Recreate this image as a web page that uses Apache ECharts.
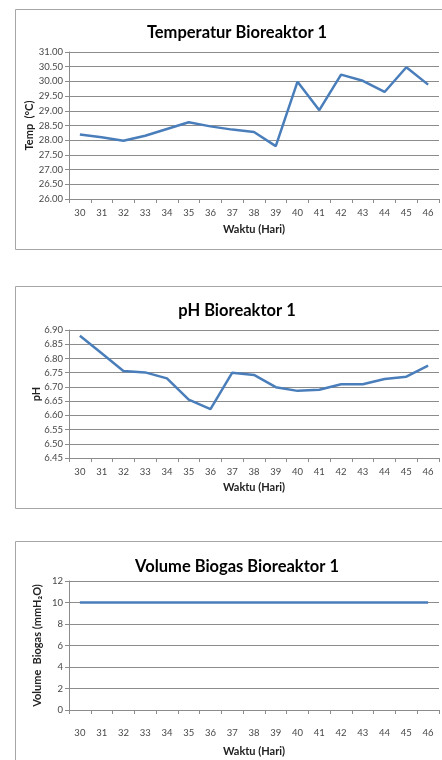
<!DOCTYPE html>
<html>
<head>
<meta charset="utf-8">
<title>Bioreaktor 1</title>
<script src="https://cdn.jsdelivr.net/npm/echarts@6/dist/echarts.min.js"></script>
<style>
  html, body { margin: 0; padding: 0; background: #fff; }
  #chart { width: 442px; height: 760px; }
</style>
</head>
<body>
<div id="chart"></div>
<script>
// hari ke-
const days = ["30", "31", "32", "33", "34", "35", "36", "37", "38", "39", "40", "41", "42", "43", "44", "45", "46"];
// temperatur (°C)
const tempValues = [28.19, 28.10, 27.98, 28.15, 28.38, 28.61, 28.47, 28.36, 28.28, 27.80, 29.99, 29.02, 30.23, 30.02, 29.64, 30.48, 29.89];
// pH
const phValues = [6.880, 6.818, 6.756, 6.751, 6.730, 6.655, 6.622, 6.750, 6.742, 6.699, 6.686, 6.690, 6.709, 6.709, 6.728, 6.736, 6.775];
// volume biogas (mmH2O)
const biogasValues = [10, 10, 10, 10, 10, 10, 10, 10, 10, 10, 10, 10, 10, 10, 10, 10, 10];

const FONT = "Lato, 'Liberation Sans', sans-serif";
const LINE_BLUE = "#4a7ebb";
const GRID_GREY = "#8c8c8c";

const chart = echarts.init(document.getElementById("chart"));

function xAxisFor(idx, labelMargin, nameGap) {
  return {
    type: "category",
    gridIndex: idx,
    data: days,
    boundaryGap: true,
    name: "Waktu (Hari)",
    nameLocation: "middle",
    nameGap: nameGap,
    nameMoveOverlap: false,
    nameTextStyle: { fontFamily: FONT, fontWeight: "bold", fontSize: 11, color: "#222" },
    axisLine: { lineStyle: { color: GRID_GREY, width: 1 } },
    axisTick: { show: true, alignWithLabel: false, length: 4, inside: false, lineStyle: { color: GRID_GREY } },
    axisLabel: { fontFamily: FONT, fontSize: 9.5, color: "#484848", margin: labelMargin, interval: 0 },
    splitLine: { show: false }
  };
}

function yAxisFor(idx, min, max, interval, name, nameGap, decimals) {
  return {
    type: "value",
    gridIndex: idx,
    min: min,
    max: max,
    interval: interval,
    name: name,
    nameLocation: "middle",
    nameGap: nameGap,
    nameMoveOverlap: false,
    nameRotate: 90,
    nameTextStyle: { fontFamily: FONT, fontWeight: "bold", fontSize: 11, color: "#222" },
    axisLine: { show: true, lineStyle: { color: GRID_GREY, width: 1 } },
    axisTick: { show: true, length: 4, lineStyle: { color: GRID_GREY } },
    axisLabel: {
      fontFamily: FONT, fontSize: 9.5, color: "#484848", margin: 6,
      formatter: (v) => v.toFixed(decimals)
    },
    splitLine: { show: true, lineStyle: { color: GRID_GREY, width: 1 } }
  };
}

function lineSeries(idx, values) {
  return {
    type: "line",
    xAxisIndex: idx,
    yAxisIndex: idx,
    data: values,
    symbol: "none",
    lineStyle: { color: LINE_BLUE, width: 2.5 },
    itemStyle: { color: LINE_BLUE },
    animation: false
  };
}

const titleStyle = { fontFamily: FONT, fontWeight: "bold", fontSize: 16.5, color: "#000" };

const option = {
  backgroundColor: "#fff",
  animation: false,
  graphic: [
    { type: "rect", shape: { x: 15.5, y: 9.5, width: 440, height: 240 }, style: { fill: "none", stroke: "#a6a6a6", lineWidth: 1 } },
    { type: "rect", shape: { x: 15.5, y: 286.5, width: 440, height: 222 }, style: { fill: "none", stroke: "#a6a6a6", lineWidth: 1 } },
    { type: "rect", shape: { x: 15.5, y: 541.5, width: 440, height: 240 }, style: { fill: "none", stroke: "#a6a6a6", lineWidth: 1 } }
  ],
  title: [
    { text: "Temperatur Bioreaktor 1", left: 232, top: 19, textAlign: "center", textStyle: titleStyle },
    { text: "pH Bioreaktor 1", left: 232, top: 297, textAlign: "center", textStyle: titleStyle },
    { text: "Volume Biogas Bioreaktor 1", left: 232, top: 553, textAlign: "center", textStyle: titleStyle }
  ],
  grid: [
    { left: 69, top: 52, width: 370, height: 147 },
    { left: 69, top: 330, width: 370, height: 128 },
    { left: 69, top: 581, width: 370, height: 129 }
  ],
  xAxis: [
    xAxisFor(0, 9, 25),
    xAxisFor(1, 9, 24),
    xAxisFor(2, 18, 36)
  ],
  yAxis: [
    yAxisFor(0, 26, 31, 0.5, "Temp  (°C)", 34, 2),
    yAxisFor(1, 6.45, 6.90, 0.05, "pH", 27, 2),
    yAxisFor(2, 0, 12, 2, "Volume  Biogas (mmH₂O)", 26, 0)
  ],
  series: [
    lineSeries(0, tempValues),
    lineSeries(1, phValues),
    lineSeries(2, biogasValues)
  ]
};

chart.setOption(option);
</script>
</body>
</html>
